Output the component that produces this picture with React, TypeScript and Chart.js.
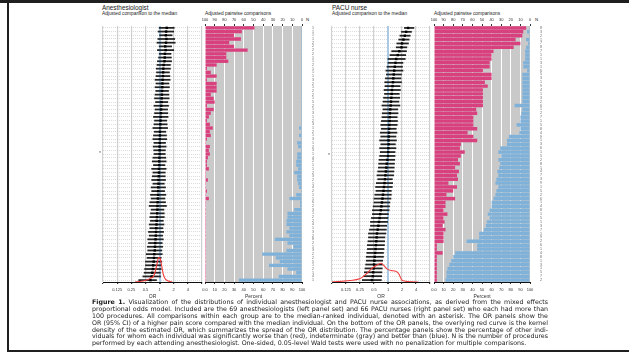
import React, { useEffect, useRef } from "react";
import { Chart, registerables } from "chart.js";
Chart.register(...registerables);

const SANS = "'Liberation Sans', Arial, sans-serif";
Chart.defaults.font.family = SANS;

// ---------- axis ticks ----------
const orTickValues = [0.0625, 0.125, 0.25, 0.5, 1, 2, 4, 8];
const orTickLabels = ["", "0.125", "0.25", "0.5", "1", "2", "4", ""];
const pctTickValues = [0, 10, 20, 30, 40, 50, 60, 70, 80, 90, 100];
const pctBottomLabels = ["0.0", "10", "20", "30", "40", "50", "60", "70", "80", "90", "100"];

// ---------- Anesthesiologists (69) ----------
const anesOR = [1.42, 1.38, 1.36, 1.40, 1.37, 1.32, 1.35, 1.30, 1.29, 1.27, 1.22, 1.20, 1.19, 1.18, 1.16, 1.15, 1.14, 1.13, 1.12, 1.11, 1.10, 1.09, 1.08, 1.07, 1.06, 1.05, 1.04, 1.03, 1.02, 1.02, 1.01, 1.01, 1.00, 1.00, 1.00, 0.99, 0.98, 0.98, 0.97, 0.97, 0.96, 0.95, 0.95, 0.94, 0.93, 0.93, 0.92, 0.91, 0.90, 0.90, 0.89, 0.88, 0.87, 0.86, 0.85, 0.84, 0.83, 0.82, 0.81, 0.80, 0.79, 0.77, 0.76, 0.75, 0.73, 0.72, 0.70, 0.68, 0.64];
const anesLo = [0.98, 0.93, 1.00, 0.92, 0.88, 0.98, 0.90, 0.98, 0.95, 0.90, 0.88, 0.85, 0.86, 0.84, 0.80, 0.84, 0.80, 0.83, 0.80, 0.78, 0.82, 0.76, 0.80, 0.78, 0.74, 0.78, 0.76, 0.72, 0.77, 0.74, 0.72, 0.76, 0.73, 0.75, 0.76, 0.72, 0.70, 0.74, 0.68, 0.72, 0.70, 0.68, 0.72, 0.66, 0.68, 0.64, 0.66, 0.62, 0.60, 0.66, 0.64, 0.62, 0.64, 0.60, 0.62, 0.58, 0.60, 0.56, 0.58, 0.55, 0.56, 0.52, 0.54, 0.50, 0.50, 0.48, 0.47, 0.44, 0.36];
const anesHi = [2.05, 2.00, 1.85, 2.10, 2.15, 1.80, 2.00, 1.75, 1.78, 1.80, 1.70, 1.70, 1.62, 1.66, 1.68, 1.58, 1.62, 1.55, 1.58, 1.60, 1.50, 1.55, 1.48, 1.50, 1.52, 1.42, 1.45, 1.48, 1.36, 1.40, 1.42, 1.34, 1.38, 1.33, 1.32, 1.36, 1.38, 1.30, 1.38, 1.32, 1.32, 1.34, 1.26, 1.34, 1.28, 1.36, 1.30, 1.34, 1.40, 1.24, 1.26, 1.26, 1.20, 1.24, 1.18, 1.22, 1.16, 1.20, 1.14, 1.16, 1.12, 1.14, 1.08, 1.12, 1.06, 1.08, 1.04, 1.05, 0.86];
const anesRed = [51, 38, 30, 37, 25, 30, 44, 22, 22, 24, 12, 2, 6, 12, 2, 12, 12, 12, 6, 9, 10, 2, 9, 6, 4, 2, 5, 8, 5, 6, 2, 1, 5, 4, 5, 3, 2, 2, 4, 1, 1, 3, 1, 1, 2, 1, 4, 1, 1, 1, 1, 1, 1, 1, 1, 1, 1, 1, 1, 1, 1, 1, 1, 1, 1, 1, 1, 1, 1];
const anesBlue = [1, 1, 1, 1, 1, 1, 1, 1, 1, 1, 1, 1, 1, 1, 1, 1, 1, 1, 1, 1, 1, 1, 1, 1, 1, 1, 1, 3, 1, 3, 1, 5, 4, 1, 5, 5, 6, 6, 4, 8, 5, 5, 4, 3, 1, 6, 13, 2, 2, 8, 15, 15, 16, 16, 13, 16, 13, 28, 15, 9, 16, 41, 27, 23, 34, 15, 6, 24, 65];
const anesN = [108, 156, 130, 103, 261, 202, 270, 256, 196, 171, 282, 144, 190, 156, 306, 211, 167, 228, 249, 138, 520, 274, 195, 343, 163, 222, 307, 185, 244, 151, 399, 128, 215, 326, 176, 462, 239, 187, 117, 284, 351, 205, 164, 433, 296, 122, 188, 617, 253, 349, 146, 277, 236, 408, 175, 312, 225, 848, 271, 184, 355, 214, 297, 543, 163, 280, 148, 465, 190];
const anesDensOR = [0.30, 0.365, 0.535, 0.65, 0.75, 0.825, 0.89, 0.95, 1.02, 1.10, 1.21, 1.33, 1.54, 1.87];
const anesDens = [0, 0.04, 0.16, 0.33, 0.49, 0.98, 1.55, 2.0, 1.96, 1.39, 0.57, 0.24, 0.08, 0];
const anesDensMax = 20.9;
const anesMedianRow = 34;

// ---------- PACU nurses (66) ----------
const pacuOR = [2.70, 2.45, 2.30, 2.15, 2.00, 1.95, 1.75, 1.62, 1.50, 1.45, 1.40, 1.36, 1.33, 1.30, 1.28, 1.25, 1.22, 1.20, 1.18, 1.16, 1.14, 1.12, 1.10, 1.09, 1.08, 1.07, 1.06, 1.05, 1.04, 1.03, 1.03, 1.02, 1.01, 1.00, 0.97, 0.94, 0.92, 0.90, 0.88, 0.86, 0.84, 0.82, 0.80, 0.78, 0.76, 0.74, 0.72, 0.70, 0.68, 0.66, 0.64, 0.62, 0.60, 0.58, 0.57, 0.56, 0.55, 0.54, 0.53, 0.52, 0.51, 0.50, 0.49, 0.48, 0.47, 0.45];
const pacuLo = [2.25, 1.95, 1.80, 1.70, 1.55, 1.50, 1.20, 1.10, 1.00, 1.00, 0.95, 0.90, 0.92, 0.88, 0.85, 0.86, 0.82, 0.84, 0.80, 0.78, 0.74, 0.78, 0.75, 0.74, 0.72, 0.70, 0.72, 0.68, 0.70, 0.66, 0.70, 0.66, 0.68, 0.66, 0.64, 0.63, 0.62, 0.60, 0.58, 0.60, 0.56, 0.54, 0.55, 0.52, 0.50, 0.50, 0.48, 0.46, 0.46, 0.44, 0.42, 0.42, 0.40, 0.38, 0.38, 0.37, 0.36, 0.36, 0.35, 0.34, 0.34, 0.33, 0.32, 0.31, 0.30, 0.28];
const pacuHi = [3.60, 3.20, 3.00, 2.85, 2.75, 2.55, 2.50, 2.40, 2.35, 2.10, 2.05, 2.10, 1.95, 1.90, 1.95, 1.82, 1.85, 1.75, 1.78, 1.72, 1.80, 1.62, 1.64, 1.58, 1.60, 1.58, 1.50, 1.56, 1.48, 1.52, 1.44, 1.48, 1.42, 1.42, 1.40, 1.38, 1.36, 1.34, 1.32, 1.24, 1.26, 1.24, 1.18, 1.18, 1.16, 1.10, 1.08, 1.06, 1.02, 1.00, 0.98, 0.94, 0.92, 0.90, 0.86, 0.85, 0.84, 0.82, 0.80, 0.80, 0.77, 0.76, 0.75, 0.74, 0.73, 0.72];
const pacuRed = [96, 93, 92, 85, 90, 83, 62, 60, 60, 58, 58, 51, 60, 60, 53, 56, 51, 51, 51, 51, 51, 44, 45, 41, 41, 41, 45, 35, 41, 45, 28, 27, 32, 28, 25, 27, 22, 26, 24, 25, 15, 24, 20, 13, 22, 12, 12, 10, 14, 10, 11, 9, 12, 10, 10, 10, 3, 3, 9, 3, 3, 3, 3, 3, 3, 3];
const pacuBlue = [1, 3, 1, 4, 2, 4, 5, 5, 5, 7, 7, 3, 8, 8, 8, 8, 8, 8, 8, 8, 16, 8, 9, 10, 10, 14, 10, 11, 22, 24, 24, 31, 33, 30, 33, 31, 32, 34, 33, 35, 36, 33, 35, 36, 38, 40, 40, 42, 44, 42, 45, 46, 48, 53, 53, 66, 55, 55, 78, 80, 82, 84, 86, 87, 87, 88];
const pacuN = [808, 352, 288, 128, 714, 830, 702, 1268, 188, 356, 1124, 629, 542, 380, 1095, 903, 465, 1211, 390, 258, 644, 1047, 287, 730, 1322, 518, 860, 410, 975, 1208, 337, 684, 1150, 552, 296, 827, 1093, 471, 765, 318, 906, 1187, 574, 243, 689, 1035, 412, 858, 1264, 503, 1049, 321, 778, 1417, 936, 208, 612, 1170, 447, 897, 1025, 385, 1302, 566, 744, 277];
const pacuDensOR = [0.0625, 0.151, 0.245, 0.344, 0.438, 0.56, 0.71, 0.82, 0.95, 1.16, 1.47, 1.70, 1.97, 2.39, 3.2, 4.5];
const pacuDens = [0, 0.064, 0.136, 0.35, 0.56, 0.70, 0.80, 0.70, 0.56, 0.49, 0.46, 0.35, 0.094, 0.034, 0.009, 0];
const pacuDensMax = 10.9;
const pacuMedianRow = 33;

const RED = "#d8417e";
const BLUE = "#7fb1d9";
const PANEL_GRAY = "#c9c9c9";

const captionLines = [
  "Visualization of the distributions of individual anesthesiologist and PACU nurse associations, as derived from the mixed effects",
  "proportional odds model. Included are the 69 anesthesiologists (left panel set) and 66 PACU nurses (right panel set) who each had more than",
  "100 procedures. All comparisons within each group are to the median-ranked individual, denoted with an asterisk. The OR panels show the",
  "OR (95% CI) of a higher pain score compared with the median individual. On the bottom of the OR panels, the overlying red curve is the kernel",
  "density of the estimated OR, which summarizes the spread of the OR distribution. The percentage panels show the percentage of other indi-",
  "viduals for whom each individual was significantly worse than (red), indeterminate (gray) and better than (blue). N is the number of procedures",
  "performed by each attending anesthesiologist. One-sided, 0.05-level Wald tests were used with no penalization for multiple comparisons.",
];

const bgPlugin = {
  id: "panelBg",
  beforeDraw(chart: any) {
    const { ctx, chartArea: a } = chart;
    ctx.save();
    ctx.fillStyle = PANEL_GRAY;
    ctx.fillRect(a.left, a.top, a.right - a.left, a.bottom - a.top);
    ctx.restore();
  },
};

function orConfig(or: number[], lo: number[], hi: number[], densOR: number[], dens: number[], densMax: number, medianRow: number): any {
  const n = or.length;
  return {
    type: "scatter",
    data: {
      datasets: [
        {
          type: "line",
          data: densOR.map((x, i) => ({ x, y: dens[i] })),
          xAxisID: "x",
          yAxisID: "yd",
          borderColor: "#f23c3c",
          borderWidth: 1.1,
          pointRadius: 0,
          cubicInterpolationMode: "monotone",
          order: 0,
        },
        {
          type: "scatter",
          data: or.map((x, i) => ({ x, y: i })),
          xAxisID: "x",
          yAxisID: "y",
          pointStyle: "rect",
          pointRadius: 1.7,
          backgroundColor: "#000",
          borderWidth: 0,
          order: 1,
        },
        {
          type: "bar",
          indexAxis: "y",
          data: lo.map((l, i) => ({ x: [l, hi[i]], y: i })),
          xAxisID: "x",
          yAxisID: "y",
          backgroundColor: "#222",
          barThickness: 1.1,
          order: 2,
        },
      ],
    },
    options: {
      animation: false,
      responsive: true,
      maintainAspectRatio: false,
      events: [],
      layout: { padding: { top: 6, right: 2, bottom: 0, left: 0 } },
      plugins: { legend: { display: false }, tooltip: { enabled: false } },
      scales: {
        x: {
          type: "logarithmic",
          position: "bottom",
          min: orTickValues[0],
          max: orTickValues[orTickValues.length - 1],
          offset: false,
          afterBuildTicks: (s: any) => {
            s.ticks = orTickValues.map((v) => ({ value: v }));
          },
          afterFit: (s: any) => {
            s.height = 21;
          },
          ticks: {
            autoSkip: false,
            maxRotation: 0,
            padding: 3,
            font: { size: 4 },
            color: "#333",
            callback: (_v: any, i: number) => orTickLabels[i],
          },
          grid: {
            offset: false,
            color: (c: any) => (c.tick && c.tick.value === 1 ? "#a8cae8" : "#d0d0d0"),
            lineWidth: (c: any) => (c.tick && c.tick.value === 1 ? 2 : 1.2),
            tickLength: 2,
            tickColor: "#333",
          },
          border: { display: true, color: "#111", width: 1 },
          title: { display: true, text: "OR", font: { size: 5 }, color: "#333", padding: { top: 0, bottom: 3 } },
        },
        y: {
          type: "linear",
          position: "left",
          reverse: true,
          min: -0.5,
          max: n - 0.5,
          offset: false,
          afterBuildTicks: (s: any) => {
            s.ticks = or.map((_v, i) => ({ value: i }));
          },
          afterFit: (s: any) => {
            s.width = 10;
          },
          ticks: {
            autoSkip: false,
            padding: 2,
            font: { size: 5 },
            color: "#555",
            callback: (v: any) => (Math.round(v) === medianRow ? "*" : ""),
          },
          grid: { offset: false, color: "#c6c6c6", lineWidth: 0.6, drawTicks: false },
          border: { display: false, dash: [1, 1] },
        },
        yd: { type: "linear", display: false, min: 0, max: densMax },
      },
    },
  };
}

function pctConfig(red: number[], blue: number[], nLab: number[]): any {
  const n = red.length;
  return {
    type: "bar",
    data: {
      datasets: [
        { data: red.map((v, i) => ({ x: v, y: i })), xAxisID: "x", yAxisID: "y", backgroundColor: RED, barPercentage: 0.9, categoryPercentage: 1, grouped: false },
        { data: blue.map((v, i) => ({ x: v, y: i })), xAxisID: "x2", yAxisID: "y", backgroundColor: BLUE, barPercentage: 0.9, categoryPercentage: 1, grouped: false },
      ],
    },
    options: {
      indexAxis: "y",
      animation: false,
      responsive: true,
      maintainAspectRatio: false,
      events: [],
      layout: { padding: { left: 6, right: 0, top: 0, bottom: 0 } },
      plugins: { legend: { display: false }, tooltip: { enabled: false } },
      scales: {
        x: {
          type: "linear",
          position: "bottom",
          min: 0,
          max: 100,
          offset: false,
          afterBuildTicks: (s: any) => {
            s.ticks = pctTickValues.map((v) => ({ value: v }));
          },
          afterFit: (s: any) => {
            s.height = 21;
          },
          ticks: { autoSkip: false, maxRotation: 0, padding: 3, font: { size: 4 }, color: "#333", callback: (_v: any, i: number) => pctBottomLabels[i] },
          grid: { color: "#ffffff", lineWidth: 1, tickLength: 2, tickColor: "#333" },
          border: { display: true, color: "#111", width: 1 },
          title: { display: true, text: "Percent", font: { size: 5 }, color: "#333", padding: { top: 0, bottom: 3 } },
        },
        x2: {
          type: "linear",
          position: "top",
          reverse: true,
          min: 0,
          max: 100,
          offset: false,
          afterBuildTicks: (s: any) => {
            s.ticks = pctTickValues.map((v) => ({ value: v }));
          },
          afterFit: (s: any) => {
            s.height = 12;
          },
          ticks: { autoSkip: false, maxRotation: 0, padding: 1.5, font: { size: 4 }, color: "#333", callback: (v: any) => String(v) },
          grid: { drawOnChartArea: false, tickLength: 2, tickColor: "#333" },
          border: { display: false },
        },
        y: {
          type: "linear",
          position: "right",
          reverse: true,
          min: -0.5,
          max: n - 0.5,
          offset: false,
          afterBuildTicks: (s: any) => {
            s.ticks = red.map((_v, i) => ({ value: i }));
          },
          afterFit: (s: any) => {
            s.width = 12;
          },
          ticks: { autoSkip: false, padding: 2, font: { size: 3.6 }, color: "#666", callback: (v: any) => String(nLab[Math.round(v)]) },
          grid: { display: false },
          border: { display: false },
        },
      },
    },
    plugins: [bgPlugin],
  };
}

function ChartBox({ config, left, top, width, height }: { config: any; left: number; top: number; width: number; height: number }) {
  const ref = useRef<HTMLCanvasElement>(null);
  useEffect(() => {
    const chart = new Chart(ref.current as HTMLCanvasElement, config);
    return () => chart.destroy();
  }, []);
  return (
    <div style={{ position: "absolute", left, top, width, height }}>
      <canvas ref={ref} />
    </div>
  );
}

function Txt({ x, y, size, children, bold }: { x: number; y: number; size: number; children: any; bold?: boolean }) {
  return (
    <div
      style={{
        position: "absolute",
        left: x,
        top: y - size / 2,
        fontSize: size,
        lineHeight: `${size}px`,
        fontFamily: SANS,
        fontWeight: bold ? 700 : 400,
        color: "#222",
        whiteSpace: "nowrap",
      }}
    >
      {children}
    </div>
  );
}

export default function App() {
  return (
    <div style={{ position: "fixed", left: 0, top: 0, width: 629, height: 355, background: "#fff", overflow: "hidden" }}>
      {/* frame */}
      <div style={{ position: "absolute", left: 0, top: 0, width: 629, height: 3, background: "#1f1f1f" }} />
      <div style={{ position: "absolute", left: 7, top: 0, width: 2, height: 352, background: "#1f1f1f" }} />
      <div style={{ position: "absolute", left: 7, top: 350, width: 622, height: 2, background: "#1f1f1f" }} />

      {/* titles */}
      <Txt x={102} y={8.3} size={6.4}>Anesthesiologist</Txt>
      <Txt x={102} y={14.6} size={4.8}>Adjusted comparison to the median</Txt>
      <Txt x={205} y={14.6} size={4.8}>Adjusted pairwise comparisons</Txt>
      <Txt x={306} y={20.5} size={4.3}>N</Txt>
      <Txt x={332} y={8.3} size={6.4}>PACU nurse</Txt>
      <Txt x={332} y={14.6} size={4.8}>Adjusted comparison to the median</Txt>
      <Txt x={434} y={14.6} size={4.8}>Adjusted pairwise comparisons</Txt>
      <Txt x={535} y={20.5} size={4.3}>N</Txt>

      {/* charts */}
      <ChartBox config={orConfig(anesOR, anesLo, anesHi, anesDensOR, anesDens, anesDensMax, anesMedianRow)} left={93} top={20} width={113} height={283} />
      <ChartBox config={pctConfig(anesRed, anesBlue, anesN)} left={199} top={14} width={115} height={289} />
      <ChartBox config={orConfig(pacuOR, pacuLo, pacuHi, pacuDensOR, pacuDens, pacuDensMax, pacuMedianRow)} left={322} top={20} width={112} height={283} />
      <ChartBox config={pctConfig(pacuRed, pacuBlue, pacuN)} left={428} top={14} width={114} height={289} />

      {/* caption */}
      <div style={{ position: "absolute", left: 92, top: 299.4, width: 456, fontFamily: "'DejaVu Sans', sans-serif", fontSize: 6.3, lineHeight: "6.8px", color: "#1a1a1a" }}>
        {captionLines.map((l, i) => (
          <div key={i} style={{ textAlign: "justify", textAlignLast: i < captionLines.length - 1 ? "justify" : "left", whiteSpace: "nowrap" }}>
            {i === 0 ? (
              <>
                <b>Figure 1.</b> {l}
              </>
            ) : (
              l
            )}
          </div>
        ))}
      </div>
    </div>
  );
}
